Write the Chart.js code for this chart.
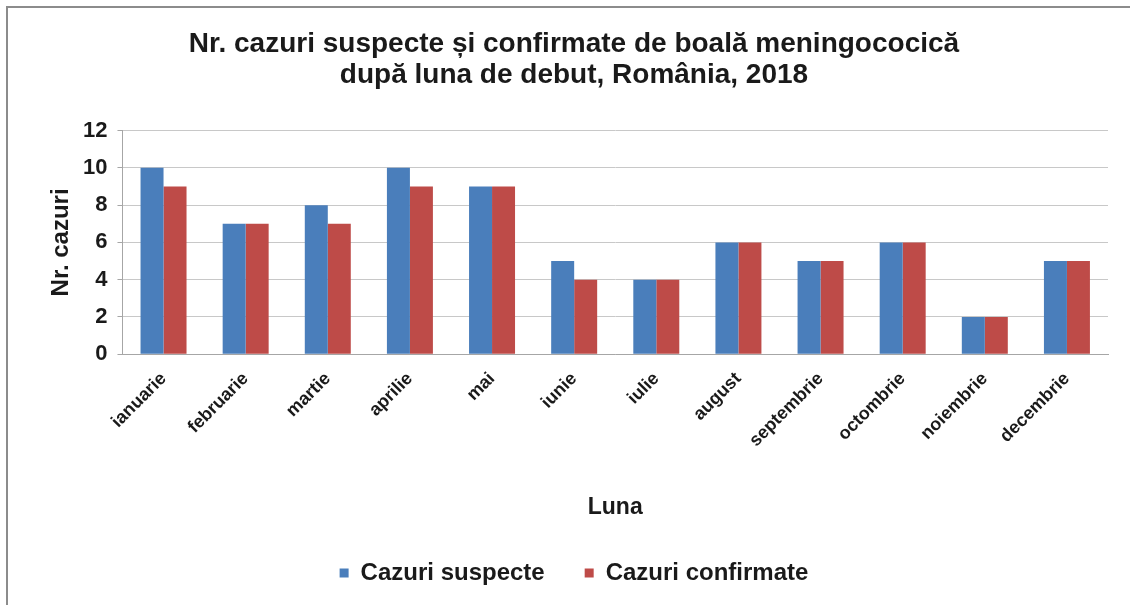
<!DOCTYPE html>
<html>
<head>
<meta charset="utf-8">
<script src="https://cdn.jsdelivr.net/npm/chart.js@4.4.1/dist/chart.umd.min.js"></script>
<style>
    html, body { margin: 0; padding: 0; background: #fff; }
    #frame {
        position: absolute; left: 6px; top: 6px; width: 1124px; height: 599px;
        border-left: 2px solid #8c8c8c; border-top: 2px solid #8c8c8c; box-sizing: border-box;
    }
    #wrap { position: absolute; left: 0; top: 0; width: 1130px; height: 605px; }
</style>
</head>
<body>
<div id="frame"></div>
<div id="wrap"><canvas id="barchart" width="1130" height="605"></canvas></div>
<script>
var months = ['ianuarie', 'februarie', 'martie', 'aprilie', 'mai', 'iunie', 'iulie', 'august', 'septembrie', 'octombrie', 'noiembrie', 'decembrie'];
var suspecte = [10, 7, 8, 10, 9, 5, 4, 6, 5, 6, 2, 5];
var confirmate = [9, 7, 7, 9, 9, 4, 4, 6, 5, 6, 2, 5];
var yTicks = [0, 2, 4, 6, 8, 10, 12];

var font = 'Liberation Sans, Arial, sans-serif';
Chart.defaults.font.family = font;
Chart.defaults.color = '#1a1a1a';

var chart1 = document.getElementById('barchart');
var myChart1 = new Chart(chart1, {
    type: 'bar',
    data: {
        labels: months,
        datasets: [{
            label: 'Cazuri suspecte',
            data: suspecte,
            backgroundColor: '#4a7ebb',
            borderWidth: 0
        }, {
            label: 'Cazuri confirmate',
            data: confirmate,
            backgroundColor: '#be4b48',
            borderWidth: 0
        }]
    },
    options: {
        responsive: false,
        maintainAspectRatio: false,
        animation: false,
        devicePixelRatio: 1,
        layout: { padding: { left: 40, right: 22, top: 29, bottom: 10 } },
        datasets: {
            bar: { barPercentage: 1, categoryPercentage: 0.56 }
        },
        scales: {
            x: {
                grid: { display: false, drawTicks: false },
                border: { color: '#a6a6a6' },
                ticks: {
                    maxRotation: 45, minRotation: 45, padding: 14,
                    autoSkip: false,
                    font: { size: 18, weight: 'bold' }
                },
                title: {
                    display: true, text: 'Luna',
                    font: { size: 23, weight: 'bold' },
                    padding: { top: 28, bottom: 0 }
                }
            },
            y: {
                min: 0, max: 12,
                afterBuildTicks: function(axis) {
                    axis.ticks = yTicks.map(function(v) { return { value: v }; });
                },
                grid: { color: '#c8c8c8', tickLength: 5, tickColor: '#a6a6a6' },
                border: { color: '#a6a6a6' },
                ticks: { padding: 10, autoSkip: false, font: { size: 22, weight: 'bold' } },
                title: {
                    display: true, text: 'Nr. cazuri',
                    font: { size: 24, weight: 'bold', lineHeight: 1 },
                    padding: { top: 9, bottom: 0 }
                }
            }
        },
        plugins: {
            title: {
                display: true,
                text: ['Nr. cazuri suspecte și confirmate de boală meningococică', 'după luna de debut, România, 2018'],
                font: { size: 28, weight: 'bold', lineHeight: 1.1 },
                padding: { top: 0, bottom: 40 }
            },
            legend: {
                position: 'bottom',
                labels: {
                    boxWidth: 9, boxHeight: 9, padding: 40,
                    font: { size: 24, weight: 'bold' }
                }
            },
            tooltip: { enabled: false }
        }
    }
});
</script>
</body>
</html>
